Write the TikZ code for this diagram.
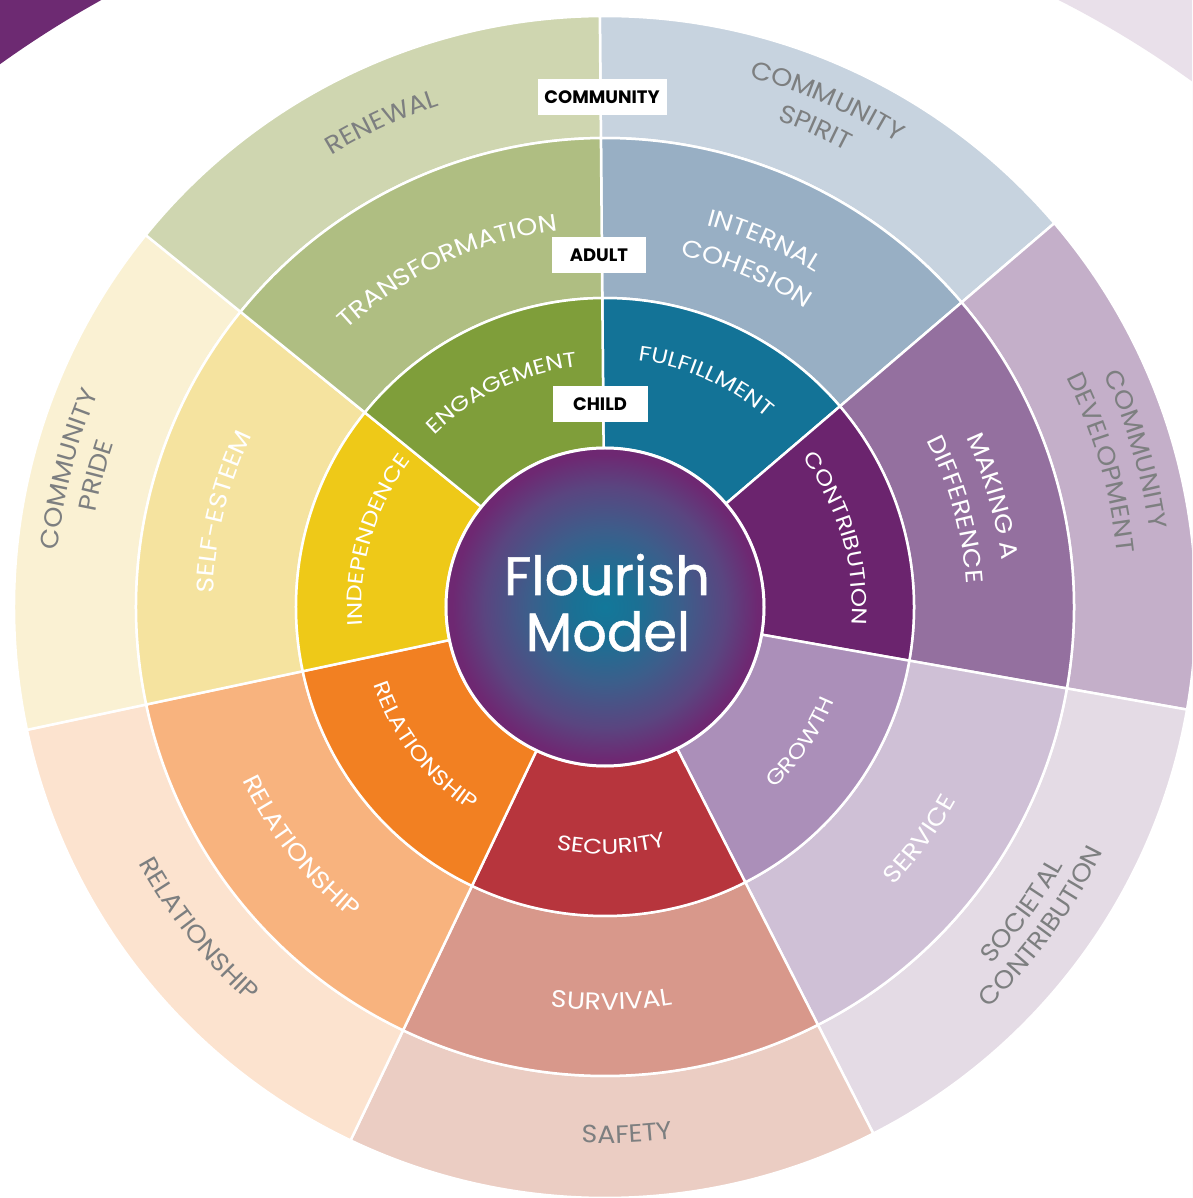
\documentclass[tikz,border=0pt]{standalone}
\usepackage{fontspec}
\setmainfont{Poppins}
\newfontfamily\ringAfont{Poppins}[FakeStretch=1.17]
\newfontfamily\ringBfont{Poppins}[FakeStretch=1.12]
\newfontfamily\ringCfont{Poppins}[FakeStretch=1.08]
\usetikzlibrary{decorations.text}
% ring 1
\definecolor{cFul}{HTML}{137397}
\definecolor{cCon}{HTML}{6B246E}
\definecolor{cGro}{HTML}{AB8FB9}
\definecolor{cSec}{HTML}{B7353D}
\definecolor{cRelA}{HTML}{F28022}
\definecolor{cInd}{HTML}{EEC918}
\definecolor{cEng}{HTML}{7F9E3A}
% ring 2
\definecolor{cInt}{HTML}{98AFC4}
\definecolor{cMak}{HTML}{94709F}
\definecolor{cSer}{HTML}{CFC0D6}
\definecolor{cSur}{HTML}{D8988B}
\definecolor{cRelB}{HTML}{F8B37E}
\definecolor{cSel}{HTML}{F5E39F}
\definecolor{cTra}{HTML}{AFBE82}
% ring 3
\definecolor{cSpi}{HTML}{C7D3DF}
\definecolor{cDev}{HTML}{C4AFC9}
\definecolor{cSoc}{HTML}{E4DBE5}
\definecolor{cSaf}{HTML}{EBCDC3}
\definecolor{cRelC}{HTML}{FCE3CF}
\definecolor{cPri}{HTML}{FAF1D3}
\definecolor{cRen}{HTML}{CFD6B0}
% misc
\definecolor{cGrayTxt}{HTML}{7D7F80}
\definecolor{cCornerP}{HTML}{6D2A72}
\definecolor{cCornerL}{HTML}{E9E0EA}
\definecolor{shA}{HTML}{12789A}
\definecolor{shB}{HTML}{1B7094}
\definecolor{shC}{HTML}{3C5E8B}
\definecolor{shD}{HTML}{5A4580}
\definecolor{shE}{HTML}{6E2872}
\pgfdeclareradialshading{flourishshade}{\pgfpoint{0bp}{0bp}}{color(0bp)=(shA); color(5bp)=(shB); color(12bp)=(shC); color(19bp)=(shD); color(24bp)=(shE); color(50bp)=(shE)}

\newcommand\ringAfmt{\ringAfont\fontsize{21}{25}\selectfont\color{white}}
\newcommand\ringBfmt{\ringBfont\fontsize{24}{28}\selectfont\color{white}}
\newcommand\ringCfmt{\ringCfont\fontsize{25}{29}\selectfont\color{cGrayTxt}}

% sector: start angle, end angle, inner r, outer r, colour
\newcommand\wheelsector[5]{%
  \filldraw[fill=#5, draw=white, line width=2.5pt, line join=round]
    (#1:#3pt) arc[start angle=#1, end angle=#2, radius=#3pt]
    -- (#2:#4pt) arc[start angle=#2, end angle=#1, radius=#4pt] -- cycle;}
% label with letter tops facing outward: mid angle, baseline radius, format, text
\newcommand\uplab[4]{%
  \path[decorate, decoration={text along path, text align=center, text={|#3|#4}}]
    ({#1+70}:#2pt) arc[start angle={#1+70}, end angle={#1-70}, radius=#2pt];}
% label with letter tops facing inward
\newcommand\lowlab[4]{%
  \path[decorate, decoration={text along path, text align=center, text={|#3|#4}}]
    ({#1-70}:#2pt) arc[start angle={#1-70}, end angle={#1+70}, radius=#2pt];}

\tikzset{
  tagbox/.style={fill=white, inner sep=0pt, text=black,
    font=\bfseries\fontsize{18}{21}\selectfont},
  titletext/.style={text=white, inner sep=0pt,
    font=\fontsize{54}{60}\selectfont\addfontfeature{FakeBold=1}}
}

\begin{document}
\begin{tikzpicture}[x=1pt, y=1pt]
\clip (-605,-591) rectangle (587,607);
\fill[white] (-605,-591) rectangle (587,607);
% corner decorations
\begin{scope}
  \clip (-605,-591) rectangle (0,607);
  \fill[cCornerP, even odd rule] (-605,-591) rectangle (587,607) (0,-302) circle (1039pt);
\end{scope}
\begin{scope}
  \clip (0,-591) rectangle (587,607);
  \fill[cCornerL, even odd rule] (-605,-591) rectangle (587,607) (0,-289) circle (1004pt);
\end{scope}

% ring 3 (community)
\wheelsector{90.5}{40.5}{469}{591}{cSpi}
\wheelsector{40.5}{-10}{469}{591}{cDev}
\wheelsector{-10}{-63}{469}{591}{cSoc}
\wheelsector{-63}{-115.5}{469}{591}{cSaf}
\wheelsector{-115.5}{-168}{469}{591}{cRelC}
\wheelsector{-168}{-219}{469}{591}{cPri}
\wheelsector{-219}{-269.5}{469}{591}{cRen}
% ring 2 (adult)
\wheelsector{90.5}{40.5}{309}{469}{cInt}
\wheelsector{40.5}{-10}{309}{469}{cMak}
\wheelsector{-10}{-63}{309}{469}{cSer}
\wheelsector{-63}{-115.5}{309}{469}{cSur}
\wheelsector{-115.5}{-168}{309}{469}{cRelB}
\wheelsector{-168}{-219}{309}{469}{cSel}
\wheelsector{-219}{-269.5}{309}{469}{cTra}
% ring 1 (child)
\wheelsector{90.5}{40.5}{159}{309}{cFul}
\wheelsector{40.5}{-10}{159}{309}{cCon}
\wheelsector{-10}{-63}{159}{309}{cGro}
\wheelsector{-63}{-115.5}{159}{309}{cSec}
\wheelsector{-115.5}{-168}{159}{309}{cRelA}
\wheelsector{-168}{-219}{159}{309}{cInd}
\wheelsector{-219}{-269.5}{159}{309}{cEng}

% centre
\shade[shading=flourishshade] (0,0) circle (159pt);
\draw[white, line width=3pt] (0,0) circle (159pt);
\node[titletext, anchor=base] (title1) at (2,12) {Flourish};
\node[titletext, anchor=base] (title2) at (3,-44) {Model};

% ring 1 labels
\uplab{65.9}{249}{\ringAfmt}{FULFILLMENT}
\uplab{16.5}{247}{\ringAfmt}{CONTRIBUTION}
\lowlab{-34.6}{248}{\ringAfmt}{GROWTH}
\lowlab{-88.5}{247}{\ringAfmt}{SECURITY}
\lowlab{-142.4}{244}{\ringAfmt}{RELATIONSHIP}
\uplab{163.7}{243}{\ringAfmt}{INDEPENDENCE}
\uplab{115.7}{242}{\ringAfmt}{ENGAGEMENT}

% ring 2 labels
\uplab{66.5}{395}{\ringBfmt}{INTERNAL}
\uplab{67}{359}{\ringBfmt}{COHESION}
\uplab{15.9}{399}{\ringBfmt}{MAKING A}
\uplab{15.5}{362}{\ringBfmt}{DIFFERENCE}
\lowlab{-36.4}{401}{\ringBfmt}{SERVICE}
\lowlab{-89}{403}{\ringBfmt}{SURVIVAL}
\lowlab{-141.8}{402}{\ringBfmt}{RELATIONSHIP}
\uplab{166}{392}{\ringBfmt}{SELF-ESTEEM}
\uplab{115.1}{379}{\ringBfmt}{TRANSFORMATION}

% ring 3 labels
\uplab{114.7}{528}{\ringCfmt}{RENEWAL}
\uplab{66.3}{549}{\ringCfmt}{COMMUNITY}
\uplab{66.3}{516}{\ringCfmt}{SPIRIT}
\uplab{16.5}{550}{\ringCfmt}{COMMUNITY}
\uplab{16.2}{515}{\ringCfmt}{DEVELOPMENT}
\lowlab{-36.1}{526}{\ringCfmt}{SOCIETAL}
\lowlab{-36.2}{555}{\ringCfmt}{CONTRIBUTION}
\lowlab{-87.6}{536}{\ringCfmt}{SAFETY}
\lowlab{-141.6}{532}{\ringCfmt}{RELATIONSHIP}
\uplab{165.6}{550}{\ringCfmt}{COMMUNITY}
\uplab{165.5}{518}{\ringCfmt}{PRIDE}

% level tags
\node[tagbox, minimum width=129pt, minimum height=36pt] (tagcomm) at (-3,510) {COMMUNITY};
\node[tagbox, minimum width=94pt, minimum height=36pt] (tagadult) at (-6,352) {ADULT};
\node[tagbox, minimum width=95pt, minimum height=36pt] (tagchild) at (-5,203) {CHILD};
\end{tikzpicture}
\end{document}
